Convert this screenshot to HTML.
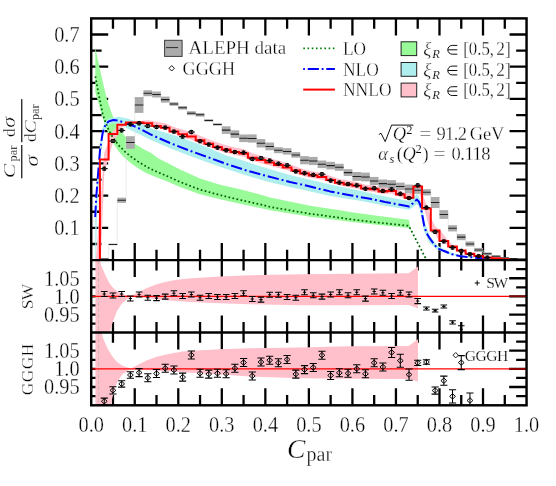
<!DOCTYPE html>
<html><head><meta charset="utf-8"><title>C-parameter</title>
<style>
html,body{margin:0;padding:0;background:#fff;}
body{width:556px;height:486px;overflow:hidden;}
svg{display:block;}
text{font-family:"Liberation Serif",serif;fill:#000;stroke:#fff;stroke-width:0.32px;}
.sm{stroke-width:0.14px;}
.md{stroke-width:0.22px;}
.it{font-style:italic;}
</style></head><body>
<svg width="556" height="486" viewBox="0 0 556 486">
<defs>
<clipPath id="c1"><rect x="91.2" y="18.4" width="435.35" height="241.7"/></clipPath>
<clipPath id="c2"><rect x="91.2" y="260.1" width="435.35" height="72.35"/></clipPath>
<clipPath id="c3"><rect x="91.2" y="332.45" width="435.35" height="72.85"/></clipPath>
</defs>
<rect x="0" y="0" width="556" height="486" fill="#fff"/>
<g opacity="0.999">
<path d="M112.97 18.4L112.97 28.8M112.97 249.7L112.97 260.1M134.74 18.4L134.74 35.4M134.74 243.1L134.74 260.1M156.5 18.4L156.5 28.8M156.5 249.7L156.5 260.1M178.27 18.4L178.27 35.4M178.27 243.1L178.27 260.1M200.04 18.4L200.04 28.8M200.04 249.7L200.04 260.1M221.81 18.4L221.81 35.4M221.81 243.1L221.81 260.1M243.57 18.4L243.57 28.8M243.57 249.7L243.57 260.1M265.34 18.4L265.34 35.4M265.34 243.1L265.34 260.1M287.11 18.4L287.11 28.8M287.11 249.7L287.11 260.1M308.88 18.4L308.88 35.4M308.88 243.1L308.88 260.1M330.64 18.4L330.64 28.8M330.64 249.7L330.64 260.1M352.41 18.4L352.41 35.4M352.41 243.1L352.41 260.1M374.18 18.4L374.18 28.8M374.18 249.7L374.18 260.1M395.94 18.4L395.94 35.4M395.94 243.1L395.94 260.1M417.71 18.4L417.71 28.8M417.71 249.7L417.71 260.1M439.48 18.4L439.48 35.4M439.48 243.1L439.48 260.1M461.25 18.4L461.25 28.8M461.25 249.7L461.25 260.1M483.01 18.4L483.01 35.4M483.01 243.1L483.01 260.1M504.78 18.4L504.78 28.8M504.78 249.7L504.78 260.1M91.2 243.99L101.6 243.99M516.15 243.99L526.55 243.99M91.2 227.87L108.2 227.87M509.55 227.87L526.55 227.87M91.2 211.76L101.6 211.76M516.15 211.76L526.55 211.76M91.2 195.64L108.2 195.64M509.55 195.64L526.55 195.64M91.2 179.53L101.6 179.53M516.15 179.53L526.55 179.53M91.2 163.41L108.2 163.41M509.55 163.41L526.55 163.41M91.2 147.3L101.6 147.3M516.15 147.3L526.55 147.3M91.2 131.18L108.2 131.18M509.55 131.18L526.55 131.18M91.2 115.07L101.6 115.07M516.15 115.07L526.55 115.07M91.2 98.95L108.2 98.95M509.55 98.95L526.55 98.95M91.2 82.84L101.6 82.84M516.15 82.84L526.55 82.84M91.2 66.72L108.2 66.72M509.55 66.72L526.55 66.72M91.2 50.61L101.6 50.61M516.15 50.61L526.55 50.61M91.2 34.49L108.2 34.49M509.55 34.49L526.55 34.49" stroke="#000" stroke-width="2.3" fill="none"/>
<g clip-path="url(#c1)">
<polygon fill="#98fb98" points="95.3,47.5 97.8,59.5 100.4,71.2 103.5,85 106.6,97.9 110.7,110.5 112.7,116 114.5,120 118.7,128 125.4,136.7 132.1,142.1 142.8,148.8 152,153.4 157.62,158.1 168,163.15 179.99,169.49 200,178.42 220.01,184.77 239.98,189.26 259.99,194.46 270.02,197.49 310,205.65 339.96,210.24 349.98,211.98 378.76,216.08 408.8,219.76 411.3,230.8 408.8,228 378.76,225.08 349.98,221.83 339.96,220.44 310,216.8 270.02,210.32 259.99,207.92 239.98,203.79 220.01,199.31 200,194.19 179.99,186.99 168,181.87 157.62,177.81 152,175.6 145.5,172.8 138.8,168.8 132.1,164.1 125.4,158.8 118.7,151.4 113.4,143.4 108,132.7 104.6,124 100.7,110.5 98,101.5 95.3,92"/>
<polygon fill="#afeeee" points="95.3,212 97.3,176 99.8,147 102.5,128 105.4,121.6 108.7,118.8 112,118 118.7,116.7 126.8,118.3 136.1,121.4 150,127.9 175,135.5 205,146.5 225,155 240,159.6 260,166.3 290,175 330,184.5 360,190.8 385.2,196.6 405,200.3 409.2,201.2 413,198 416.7,194 419,196.2 421.2,203 424.4,221 429.2,235 437,245.2 447.8,251.3 459.6,255.2 475,257.6 490,258.7 490,259.1 475,258.3 459.6,256.7 447.8,254 437,249.6 429,242.3 424,231 420.9,214 419,206.5 416.8,204.2 413,207 409.2,209.7 385.2,205.8 360,200.8 330,195.9 305,190.3 290,187 265,180.9 245,175 225,168.6 210,163.2 190,155.9 170,148.2 150,139.4 136.1,132.7 126.8,128.2 118.3,124 113,123 109.5,124.2 106.2,127.5 103.2,135.5 100.4,158 98.4,188 96.9,215 95.3,300"/>
<polygon fill="#ffc0cb" points="95.4,265 104.26,152.85 112.97,130.96 121.67,123.91 130.38,122.45 139.09,120.9 147.8,120.2 156.5,121.7 165.21,123.18 173.92,127.01 182.62,129.71 191.33,132 200.04,135.64 208.74,139.28 217.45,142.62 226.16,145.13 234.87,147.54 243.57,149.12 252.28,153.31 260.99,155.74 269.69,158.16 278.4,160.6 287.11,163.14 295.81,166.41 304.52,169.38 313.23,171.41 321.94,172.81 330.64,176 339.35,178.88 348.06,180.6 356.76,181.91 365.47,184.7 374.18,185.48 382.88,187.64 391.59,187.17 400.3,190.92 409.01,194.14 418,183.2 426.7,205 430.8,217.5 435.4,226.8 441,231 446.4,238.5 452.7,245.3 461.7,251 470,254.2 480,256.5 492,258.2 505,259.2 505,259.6 492,258.9 480,257.3 470,255 461.6,252.1 452.9,248.3 444.2,243 439,241.2 434.1,231.6 429.8,229.3 426.7,218.2 424.3,209.6 418,189.6 409.01,200.12 400.3,197.11 391.59,193.61 382.88,193.96 374.18,191.9 365.47,191.1 356.76,188.46 348.06,187.17 339.35,185.49 330.64,182.75 321.94,179.72 313.23,178.32 304.52,176.34 295.81,173.5 287.11,170.35 278.4,167.89 269.69,165.51 260.99,163.14 252.28,160.76 243.57,156.73 234.87,155.12 226.16,152.74 217.45,150.25 208.74,146.99 200.04,143.43 191.33,139.86 182.62,137.56 173.92,133.31 165.21,129.32 156.5,127.23 147.8,124.12 139.09,122.91 130.38,122.75 121.67,127.68 112.97,142.76 104.26,172.38 95.4,400"/>
<polyline fill="none" stroke="#e4e4e4" stroke-width="0.7" points="99.91,258.9 108.61,258.9 108.61,244.4 117.32,244.4 117.32,200.3 126.03,200.3 126.03,142.5 134.74,142.5 134.74,105 143.44,105 143.44,93.2 152.15,93.2 152.15,94.5 160.86,94.5 160.86,99.6 169.56,99.6 169.56,104 178.27,104 178.27,107.8 186.98,107.8 186.98,113.2 195.68,113.2 195.68,114.8 204.39,114.8 204.39,120.4 213.1,120.4 213.1,124.4 221.81,124.4 221.81,130.1 230.51,130.1 230.51,134.1 239.22,134.1 239.22,138.3 247.93,138.3 247.93,138.5 256.63,138.5 256.63,143.3 265.34,143.3 265.34,146.4 274.05,146.4 274.05,150.2 282.75,150.2 282.75,151.4 291.46,151.4 291.46,154.9 300.17,154.9 300.17,160.2 308.88,160.2 308.88,161 317.58,161 317.58,164.3 326.29,164.3 326.29,165.6 335,165.6 335,167.3 343.7,167.3 343.7,172.6 352.41,172.6 352.41,176.4 361.12,176.4 361.12,177 369.82,177 369.82,181 378.53,181 378.53,183.6 387.24,183.6 387.24,184.2 395.94,184.2 395.94,186.4 404.65,186.4 404.65,189 413.36,189 413.36,190.2 422.07,190.2 422.07,192.3 430.77,192.3 430.77,202.5 439.48,202.5 439.48,214.5 448.19,214.5 448.19,228.3 456.89,228.3 456.89,237.1 465.6,237.1 465.6,243.9 474.31,243.9 474.31,249.9 483.01,249.9 483.01,253.8 491.72,253.8 491.72,256.2 500.43,256.2 500.43,258 509.14,258 509.14,258.6 517.84,258.6 517.84,258.9 526.55,258.9"/>
<rect x="99.91" y="258.3" width="8.71" height="1.2" fill="#ababab"/>
<rect x="108.61" y="243.6" width="8.71" height="1.6" fill="#ababab"/>
<rect x="117.32" y="197.7" width="8.71" height="5.2" fill="#ababab"/>
<rect x="126.03" y="136.2" width="8.71" height="12.6" fill="#ababab"/>
<rect x="134.74" y="97.1" width="8.71" height="15.8" fill="#ababab"/>
<rect x="143.44" y="90.2" width="8.71" height="6" fill="#ababab"/>
<rect x="152.15" y="91.5" width="8.71" height="6" fill="#ababab"/>
<rect x="160.86" y="96.6" width="8.71" height="6" fill="#ababab"/>
<rect x="169.56" y="102.2" width="8.71" height="3.6" fill="#ababab"/>
<rect x="178.27" y="106" width="8.71" height="3.6" fill="#ababab"/>
<rect x="186.98" y="111.2" width="8.71" height="4" fill="#ababab"/>
<rect x="195.68" y="113" width="8.71" height="3.6" fill="#ababab"/>
<rect x="204.39" y="119.2" width="8.71" height="2.4" fill="#ababab"/>
<rect x="213.1" y="123.2" width="8.71" height="2.4" fill="#ababab"/>
<rect x="221.81" y="126.3" width="8.71" height="7.6" fill="#ababab"/>
<rect x="230.51" y="130.3" width="8.71" height="7.6" fill="#ababab"/>
<rect x="239.22" y="134.5" width="8.71" height="7.6" fill="#ababab"/>
<rect x="247.93" y="134.4" width="8.71" height="8.2" fill="#ababab"/>
<rect x="256.63" y="139.1" width="8.71" height="8.4" fill="#ababab"/>
<rect x="265.34" y="142.5" width="8.71" height="7.8" fill="#ababab"/>
<rect x="274.05" y="147.2" width="8.71" height="6" fill="#ababab"/>
<rect x="282.75" y="148.2" width="8.71" height="6.4" fill="#ababab"/>
<rect x="291.46" y="152.1" width="8.71" height="5.6" fill="#ababab"/>
<rect x="300.17" y="156.1" width="8.71" height="8.2" fill="#ababab"/>
<rect x="308.88" y="156.9" width="8.71" height="8.2" fill="#ababab"/>
<rect x="317.58" y="160.5" width="8.71" height="7.6" fill="#ababab"/>
<rect x="326.29" y="161.8" width="8.71" height="7.6" fill="#ababab"/>
<rect x="335" y="163.8" width="8.71" height="7" fill="#ababab"/>
<rect x="343.7" y="169.2" width="8.71" height="6.8" fill="#ababab"/>
<rect x="352.41" y="172" width="8.71" height="8.8" fill="#ababab"/>
<rect x="361.12" y="172.6" width="8.71" height="8.8" fill="#ababab"/>
<rect x="369.82" y="176.9" width="8.71" height="8.2" fill="#ababab"/>
<rect x="378.53" y="179.5" width="8.71" height="8.2" fill="#ababab"/>
<rect x="387.24" y="180.1" width="8.71" height="8.2" fill="#ababab"/>
<rect x="395.94" y="182.6" width="8.71" height="7.6" fill="#ababab"/>
<rect x="404.65" y="184.6" width="8.71" height="8.8" fill="#ababab"/>
<rect x="413.36" y="186.6" width="8.71" height="7.2" fill="#ababab"/>
<rect x="422.07" y="189.2" width="8.71" height="6.2" fill="#ababab"/>
<rect x="430.77" y="197" width="8.71" height="11" fill="#ababab"/>
<rect x="439.48" y="210.1" width="8.71" height="8.8" fill="#ababab"/>
<rect x="448.19" y="225.2" width="8.71" height="6.2" fill="#ababab"/>
<rect x="456.89" y="234" width="8.71" height="6.2" fill="#ababab"/>
<rect x="465.6" y="241.4" width="8.71" height="5" fill="#ababab"/>
<rect x="474.31" y="247.9" width="8.71" height="4" fill="#ababab"/>
<rect x="483.01" y="252.4" width="8.71" height="2.8" fill="#ababab"/>
<rect x="491.72" y="255.2" width="8.71" height="2" fill="#ababab"/>
<rect x="500.43" y="257.3" width="8.71" height="1.4" fill="#ababab"/>
<rect x="509.14" y="258.1" width="8.71" height="1" fill="#ababab"/>
<rect x="517.84" y="258.5" width="8.71" height="0.8" fill="#ababab"/>
<line x1="100.01" y1="258.9" x2="108.51" y2="258.9" stroke="#202020" stroke-width="1.05"/>
<line x1="108.71" y1="244.4" x2="117.22" y2="244.4" stroke="#202020" stroke-width="1.05"/>
<line x1="117.42" y1="200.3" x2="125.93" y2="200.3" stroke="#202020" stroke-width="1.05"/>
<line x1="126.13" y1="142.5" x2="134.64" y2="142.5" stroke="#202020" stroke-width="1.05"/>
<line x1="134.84" y1="105" x2="143.34" y2="105" stroke="#202020" stroke-width="1.05"/>
<line x1="143.54" y1="93.2" x2="152.05" y2="93.2" stroke="#202020" stroke-width="1.05"/>
<line x1="152.25" y1="94.5" x2="160.76" y2="94.5" stroke="#202020" stroke-width="1.05"/>
<line x1="160.96" y1="99.6" x2="169.46" y2="99.6" stroke="#202020" stroke-width="1.05"/>
<line x1="169.66" y1="104" x2="178.17" y2="104" stroke="#202020" stroke-width="1.05"/>
<line x1="178.37" y1="107.8" x2="186.88" y2="107.8" stroke="#202020" stroke-width="1.05"/>
<line x1="187.08" y1="113.2" x2="195.58" y2="113.2" stroke="#202020" stroke-width="1.05"/>
<line x1="195.78" y1="114.8" x2="204.29" y2="114.8" stroke="#202020" stroke-width="1.05"/>
<line x1="204.49" y1="120.4" x2="213" y2="120.4" stroke="#202020" stroke-width="1.05"/>
<line x1="213.2" y1="124.4" x2="221.71" y2="124.4" stroke="#202020" stroke-width="1.05"/>
<line x1="221.91" y1="130.1" x2="230.41" y2="130.1" stroke="#202020" stroke-width="1.05"/>
<line x1="230.61" y1="134.1" x2="239.12" y2="134.1" stroke="#202020" stroke-width="1.05"/>
<line x1="239.32" y1="138.3" x2="247.83" y2="138.3" stroke="#202020" stroke-width="1.05"/>
<line x1="248.03" y1="138.5" x2="256.53" y2="138.5" stroke="#202020" stroke-width="1.05"/>
<line x1="256.73" y1="143.3" x2="265.24" y2="143.3" stroke="#202020" stroke-width="1.05"/>
<line x1="265.44" y1="146.4" x2="273.95" y2="146.4" stroke="#202020" stroke-width="1.05"/>
<line x1="274.15" y1="150.2" x2="282.65" y2="150.2" stroke="#202020" stroke-width="1.05"/>
<line x1="282.85" y1="151.4" x2="291.36" y2="151.4" stroke="#202020" stroke-width="1.05"/>
<line x1="291.56" y1="154.9" x2="300.07" y2="154.9" stroke="#202020" stroke-width="1.05"/>
<line x1="300.27" y1="160.2" x2="308.77" y2="160.2" stroke="#202020" stroke-width="1.05"/>
<line x1="308.98" y1="161" x2="317.48" y2="161" stroke="#202020" stroke-width="1.05"/>
<line x1="317.68" y1="164.3" x2="326.19" y2="164.3" stroke="#202020" stroke-width="1.05"/>
<line x1="326.39" y1="165.6" x2="334.9" y2="165.6" stroke="#202020" stroke-width="1.05"/>
<line x1="335.1" y1="167.3" x2="343.6" y2="167.3" stroke="#202020" stroke-width="1.05"/>
<line x1="343.8" y1="172.6" x2="352.31" y2="172.6" stroke="#202020" stroke-width="1.05"/>
<line x1="352.51" y1="176.4" x2="361.02" y2="176.4" stroke="#202020" stroke-width="1.05"/>
<line x1="361.22" y1="177" x2="369.72" y2="177" stroke="#202020" stroke-width="1.05"/>
<line x1="369.92" y1="181" x2="378.43" y2="181" stroke="#202020" stroke-width="1.05"/>
<line x1="378.63" y1="183.6" x2="387.14" y2="183.6" stroke="#202020" stroke-width="1.05"/>
<line x1="387.34" y1="184.2" x2="395.84" y2="184.2" stroke="#202020" stroke-width="1.05"/>
<line x1="396.04" y1="186.4" x2="404.55" y2="186.4" stroke="#202020" stroke-width="1.05"/>
<line x1="404.75" y1="189" x2="413.26" y2="189" stroke="#202020" stroke-width="1.05"/>
<line x1="413.46" y1="190.2" x2="421.97" y2="190.2" stroke="#202020" stroke-width="1.05"/>
<line x1="422.17" y1="192.3" x2="430.67" y2="192.3" stroke="#202020" stroke-width="1.05"/>
<line x1="430.87" y1="202.5" x2="439.38" y2="202.5" stroke="#202020" stroke-width="1.05"/>
<line x1="439.58" y1="214.5" x2="448.09" y2="214.5" stroke="#202020" stroke-width="1.05"/>
<line x1="448.29" y1="228.3" x2="456.79" y2="228.3" stroke="#202020" stroke-width="1.05"/>
<line x1="456.99" y1="237.1" x2="465.5" y2="237.1" stroke="#202020" stroke-width="1.05"/>
<line x1="465.7" y1="243.9" x2="474.21" y2="243.9" stroke="#202020" stroke-width="1.05"/>
<line x1="474.41" y1="249.9" x2="482.91" y2="249.9" stroke="#202020" stroke-width="1.05"/>
<line x1="483.11" y1="253.8" x2="491.62" y2="253.8" stroke="#202020" stroke-width="1.05"/>
<line x1="491.82" y1="256.2" x2="500.33" y2="256.2" stroke="#202020" stroke-width="1.05"/>
<line x1="500.53" y1="258" x2="509.04" y2="258" stroke="#202020" stroke-width="1.05"/>
<line x1="509.24" y1="258.6" x2="517.74" y2="258.6" stroke="#202020" stroke-width="1.05"/>
<line x1="517.94" y1="258.9" x2="526.45" y2="258.9" stroke="#202020" stroke-width="1.05"/>
<polyline fill="none" stroke="#006400" stroke-width="1.75" stroke-dasharray="1.75 2.35" points="95.36,76.29 98.28,92.26 101.42,107.72 102.68,113.99 105.39,122.01 108.7,130 112.02,136.05 118.69,145.39 125.4,152.15 132.11,157.5 138.79,162.13 145.5,166.09 149.99,168.64 157.62,172.12 168,176.46 179.99,181.94 200,189.63 220.01,195.11 239.98,199.9 259.99,204.32 270.02,206.89 310,213.81 339.96,217.71 349.98,219.19 378.76,222.67 408.8,225.79 425.8,258.6"/>
<polyline fill="none" stroke="#0000ff" stroke-width="2.0" stroke-dasharray="11.4 2.9 1.9 2.9" stroke-linejoin="round" points="95.2,217 96.3,196 97.6,180 100,150.1 102.7,132.7 105.4,124.7 108.7,121.4 113.4,120 118.7,120.7 126.8,123.4 136.1,126.9 150,134.2 170,143 190,150.8 210,157.9 225,163.5 245,170 265,175.6 290,182 305,185.3 330,191.4 350,195.2 360,197 370,198.7 385.2,202 400,204.8 409.2,206.5 413,203.2 416.7,199.6 418.8,201.5 420.5,205.5 422.3,215.3 424.2,225.8 426.5,233 430,238.7 437,248 443.5,250.8 452,254.2 460.6,256.2 477.7,257.9 490,258.8"/>
<polyline fill="none" stroke="#ff0000" stroke-width="2" stroke-linejoin="miter" points="99.91,300 99.91,159.4 108.61,159.4 108.61,133.9 117.32,133.9 117.32,124.8 126.03,124.8 126.03,122.4 134.74,122.4 134.74,122.4 143.44,122.4 143.44,123.3 152.15,123.3 152.15,126 160.86,126 160.86,127.8 169.56,127.8 169.56,131.6 178.27,131.6 178.27,134.3 186.98,134.3 186.98,136.6 195.68,136.6 195.68,140.2 204.39,140.2 204.39,143.8 213.1,143.8 213.1,147.1 221.81,147.1 221.81,149.6 230.51,149.6 230.51,152 239.22,152 239.22,153.6 247.93,153.6 247.93,157.7 256.63,157.7 256.63,160.1 265.34,160.1 265.34,162.5 274.05,162.5 274.05,164.9 282.75,164.9 282.75,167.4 291.46,167.4 291.46,170.6 300.17,170.6 300.17,173.5 308.88,173.5 308.88,175.5 317.58,175.5 317.58,176.9 326.29,176.9 326.29,180 335,180 335,182.8 343.7,182.8 343.7,184.5 352.41,184.5 352.41,185.8 361.12,185.8 361.12,188.5 369.82,188.5 369.82,189.3 378.53,189.3 378.53,191.4 387.24,191.4 387.24,191 395.94,191 395.94,194.6 404.65,194.6 404.65,197.7 413.36,197.7 413.36,186.4 422.07,186.4 422.07,208.5 430.77,208.5 430.77,230.6 439.48,230.6 439.48,240.9 448.19,240.9 448.19,246.5 456.89,246.5 456.89,250.6 465.6,250.6 465.6,253.8 474.31,253.8 474.31,256 483.01,256 483.01,257.4 491.72,257.4 491.72,258.2 500.43,258.2 500.43,259.3 509.14,259.3 509.14,260.4 517.84,260.4 517.84,260.6 526.55,260.6"/>
<path d="M100.76 168.7H107.76M104.26 167.2V170.2M102.46 167.2H106.06M102.46 170.2H106.06" stroke="#000" stroke-width="1" fill="none"/>
<path d="M101.96 168.7L104.26 166.8L106.56 168.7L104.26 170.6Z" stroke="#000" stroke-width="0.8" fill="none"/>
<path d="M109.47 141H116.47M112.97 139.5V142.5M111.17 139.5H114.77M111.17 142.5H114.77" stroke="#000" stroke-width="1" fill="none"/>
<path d="M110.67 141L112.97 139.1L115.27 141L112.97 142.9Z" stroke="#000" stroke-width="0.8" fill="none"/>
<path d="M118.17 130.4H125.17M121.67 128.9V131.9M119.87 128.9H123.47M119.87 131.9H123.47" stroke="#000" stroke-width="1" fill="none"/>
<path d="M119.37 130.4L121.67 128.5L123.97 130.4L121.67 132.3Z" stroke="#000" stroke-width="0.8" fill="none"/>
<path d="M126.88 124.3H133.88M130.38 122.8V125.8M128.58 122.8H132.18M128.58 125.8H132.18" stroke="#000" stroke-width="1" fill="none"/>
<path d="M128.08 124.3L130.38 122.4L132.68 124.3L130.38 126.2Z" stroke="#000" stroke-width="0.8" fill="none"/>
<path d="M135.59 123.3H142.59M139.09 121.8V124.8M137.29 121.8H140.89M137.29 124.8H140.89" stroke="#000" stroke-width="1" fill="none"/>
<path d="M136.79 123.3L139.09 121.4L141.39 123.3L139.09 125.2Z" stroke="#000" stroke-width="0.8" fill="none"/>
<path d="M144.3 126H151.3M147.8 124.5V127.5M146 124.5H149.6M146 127.5H149.6" stroke="#000" stroke-width="1" fill="none"/>
<path d="M145.5 126L147.8 124.1L150.1 126L147.8 127.9Z" stroke="#000" stroke-width="0.8" fill="none"/>
<path d="M153 127H160M156.5 125.5V128.5M154.7 125.5H158.3M154.7 128.5H158.3" stroke="#000" stroke-width="1" fill="none"/>
<path d="M154.2 127L156.5 125.1L158.8 127L156.5 128.9Z" stroke="#000" stroke-width="0.8" fill="none"/>
<path d="M161.71 127.6H168.71M165.21 126.1V129.1M163.41 126.1H167.01M163.41 129.1H167.01" stroke="#000" stroke-width="1" fill="none"/>
<path d="M162.91 127.6L165.21 125.7L167.51 127.6L165.21 129.5Z" stroke="#000" stroke-width="0.8" fill="none"/>
<path d="M170.42 131.6H177.42M173.92 130.1V133.1M172.12 130.1H175.72M172.12 133.1H175.72" stroke="#000" stroke-width="1" fill="none"/>
<path d="M171.62 131.6L173.92 129.7L176.22 131.6L173.92 133.5Z" stroke="#000" stroke-width="0.8" fill="none"/>
<path d="M179.12 136.6H186.12M182.62 135.1V138.1M180.82 135.1H184.42M180.82 138.1H184.42" stroke="#000" stroke-width="1" fill="none"/>
<path d="M180.32 136.6L182.62 134.7L184.92 136.6L182.62 138.5Z" stroke="#000" stroke-width="0.8" fill="none"/>
<path d="M187.83 132H194.83M191.33 130.5V133.5M189.53 130.5H193.13M189.53 133.5H193.13" stroke="#000" stroke-width="1" fill="none"/>
<path d="M189.03 132L191.33 130.1L193.63 132L191.33 133.9Z" stroke="#000" stroke-width="0.8" fill="none"/>
<path d="M196.54 141.2H203.54M200.04 139.7V142.7M198.24 139.7H201.84M198.24 142.7H201.84" stroke="#000" stroke-width="1" fill="none"/>
<path d="M197.74 141.2L200.04 139.3L202.34 141.2L200.04 143.1Z" stroke="#000" stroke-width="0.8" fill="none"/>
<path d="M205.24 144.5H212.24M208.74 143V146M206.94 143H210.54M206.94 146H210.54" stroke="#000" stroke-width="1" fill="none"/>
<path d="M206.44 144.5L208.74 142.6L211.04 144.5L208.74 146.4Z" stroke="#000" stroke-width="0.8" fill="none"/>
<path d="M213.95 147.6H220.95M217.45 146.1V149.1M215.65 146.1H219.25M215.65 149.1H219.25" stroke="#000" stroke-width="1" fill="none"/>
<path d="M215.15 147.6L217.45 145.7L219.75 147.6L217.45 149.5Z" stroke="#000" stroke-width="0.8" fill="none"/>
<path d="M222.66 150.3H229.66M226.16 148.8V151.8M224.36 148.8H227.96M224.36 151.8H227.96" stroke="#000" stroke-width="1" fill="none"/>
<path d="M223.86 150.3L226.16 148.4L228.46 150.3L226.16 152.2Z" stroke="#000" stroke-width="0.8" fill="none"/>
<path d="M231.37 152H238.37M234.87 150.5V153.5M233.07 150.5H236.67M233.07 153.5H236.67" stroke="#000" stroke-width="1" fill="none"/>
<path d="M232.57 152L234.87 150.1L237.17 152L234.87 153.9Z" stroke="#000" stroke-width="0.8" fill="none"/>
<path d="M240.07 152.6H247.07M243.57 151.1V154.1M241.77 151.1H245.37M241.77 154.1H245.37" stroke="#000" stroke-width="1" fill="none"/>
<path d="M241.27 152.6L243.57 150.7L245.87 152.6L243.57 154.5Z" stroke="#000" stroke-width="0.8" fill="none"/>
<path d="M248.78 159H255.78M252.28 157.5V160.5M250.48 157.5H254.08M250.48 160.5H254.08" stroke="#000" stroke-width="1" fill="none"/>
<path d="M249.98 159L252.28 157.1L254.58 159L252.28 160.9Z" stroke="#000" stroke-width="0.8" fill="none"/>
<path d="M257.49 158.1H264.49M260.99 156.6V159.6M259.19 156.6H262.79M259.19 159.6H262.79" stroke="#000" stroke-width="1" fill="none"/>
<path d="M258.69 158.1L260.99 156.2L263.29 158.1L260.99 160Z" stroke="#000" stroke-width="0.8" fill="none"/>
<path d="M266.19 160.6H273.19M269.69 159.1V162.1M267.89 159.1H271.49M267.89 162.1H271.49" stroke="#000" stroke-width="1" fill="none"/>
<path d="M267.39 160.6L269.69 158.7L271.99 160.6L269.69 162.5Z" stroke="#000" stroke-width="0.8" fill="none"/>
<path d="M274.9 163.7H281.9M278.4 162.2V165.2M276.6 162.2H280.2M276.6 165.2H280.2" stroke="#000" stroke-width="1" fill="none"/>
<path d="M276.1 163.7L278.4 161.8L280.7 163.7L278.4 165.6Z" stroke="#000" stroke-width="0.8" fill="none"/>
<path d="M283.61 165.3H290.61M287.11 163.8V166.8M285.31 163.8H288.91M285.31 166.8H288.91" stroke="#000" stroke-width="1" fill="none"/>
<path d="M284.81 165.3L287.11 163.4L289.41 165.3L287.11 167.2Z" stroke="#000" stroke-width="0.8" fill="none"/>
<path d="M292.31 171.4H299.31M295.81 169.9V172.9M294.01 169.9H297.61M294.01 172.9H297.61" stroke="#000" stroke-width="1" fill="none"/>
<path d="M293.51 171.4L295.81 169.5L298.11 171.4L295.81 173.3Z" stroke="#000" stroke-width="0.8" fill="none"/>
<path d="M301.02 173.2H308.02M304.52 171.7V174.7M302.72 171.7H306.32M302.72 174.7H306.32" stroke="#000" stroke-width="1" fill="none"/>
<path d="M302.22 173.2L304.52 171.3L306.82 173.2L304.52 175.1Z" stroke="#000" stroke-width="0.8" fill="none"/>
<path d="M309.73 174.9H316.73M313.23 173.4V176.4M311.43 173.4H315.03M311.43 176.4H315.03" stroke="#000" stroke-width="1" fill="none"/>
<path d="M310.93 174.9L313.23 173L315.53 174.9L313.23 176.8Z" stroke="#000" stroke-width="0.8" fill="none"/>
<path d="M318.44 174.2H325.44M321.94 172.7V175.7M320.14 172.7H323.74M320.14 175.7H323.74" stroke="#000" stroke-width="1" fill="none"/>
<path d="M319.64 174.2L321.94 172.3L324.24 174.2L321.94 176.1Z" stroke="#000" stroke-width="0.8" fill="none"/>
<path d="M327.14 180.5H334.14M330.64 179V182M328.84 179H332.44M328.84 182H332.44" stroke="#000" stroke-width="1" fill="none"/>
<path d="M328.34 180.5L330.64 178.6L332.94 180.5L330.64 182.4Z" stroke="#000" stroke-width="0.8" fill="none"/>
<path d="M335.85 182.6H342.85M339.35 181.1V184.1M337.55 181.1H341.15M337.55 184.1H341.15" stroke="#000" stroke-width="1" fill="none"/>
<path d="M337.05 182.6L339.35 180.7L341.65 182.6L339.35 184.5Z" stroke="#000" stroke-width="0.8" fill="none"/>
<path d="M344.56 184.1H351.56M348.06 182.6V185.6M346.26 182.6H349.86M346.26 185.6H349.86" stroke="#000" stroke-width="1" fill="none"/>
<path d="M345.76 184.1L348.06 182.2L350.36 184.1L348.06 186Z" stroke="#000" stroke-width="0.8" fill="none"/>
<path d="M353.26 185.4H360.26M356.76 183.9V186.9M354.96 183.9H358.56M354.96 186.9H358.56" stroke="#000" stroke-width="1" fill="none"/>
<path d="M354.46 185.4L356.76 183.5L359.06 185.4L356.76 187.3Z" stroke="#000" stroke-width="0.8" fill="none"/>
<path d="M361.97 188.7H368.97M365.47 187.2V190.2M363.67 187.2H367.27M363.67 190.2H367.27" stroke="#000" stroke-width="1" fill="none"/>
<path d="M363.17 188.7L365.47 186.8L367.77 188.7L365.47 190.6Z" stroke="#000" stroke-width="0.8" fill="none"/>
<path d="M370.68 188.2H377.68M374.18 186.7V189.7M372.38 186.7H375.98M372.38 189.7H375.98" stroke="#000" stroke-width="1" fill="none"/>
<path d="M371.88 188.2L374.18 186.3L376.48 188.2L374.18 190.1Z" stroke="#000" stroke-width="0.8" fill="none"/>
<path d="M379.38 190.9H386.38M382.88 189.4V192.4M381.08 189.4H384.68M381.08 192.4H384.68" stroke="#000" stroke-width="1" fill="none"/>
<path d="M380.58 190.9L382.88 189L385.18 190.9L382.88 192.8Z" stroke="#000" stroke-width="0.8" fill="none"/>
<path d="M388.09 189.3H395.09M391.59 187.8V190.8M389.79 187.8H393.39M389.79 190.8H393.39" stroke="#000" stroke-width="1" fill="none"/>
<path d="M389.29 189.3L391.59 187.4L393.89 189.3L391.59 191.2Z" stroke="#000" stroke-width="0.8" fill="none"/>
<path d="M396.8 193.8H403.8M400.3 192.3V195.3M398.5 192.3H402.1M398.5 195.3H402.1" stroke="#000" stroke-width="1" fill="none"/>
<path d="M398 193.8L400.3 191.9L402.6 193.8L400.3 195.7Z" stroke="#000" stroke-width="0.8" fill="none"/>
<path d="M405.51 198.1H412.51M409.01 196.6V199.6M407.21 196.6H410.81M407.21 199.6H410.81" stroke="#000" stroke-width="1" fill="none"/>
<path d="M406.71 198.1L409.01 196.2L411.31 198.1L409.01 200Z" stroke="#000" stroke-width="0.8" fill="none"/>
<path d="M414.21 185.3H421.21M417.71 183.8V186.8M415.91 183.8H419.51M415.91 186.8H419.51" stroke="#000" stroke-width="1" fill="none"/>
<path d="M415.41 185.3L417.71 183.4L420.01 185.3L417.71 187.2Z" stroke="#000" stroke-width="0.8" fill="none"/>
<path d="M422.92 207.6H429.92M426.42 206.1V209.1M424.62 206.1H428.22M424.62 209.1H428.22" stroke="#000" stroke-width="1" fill="none"/>
<path d="M424.12 207.6L426.42 205.7L428.72 207.6L426.42 209.5Z" stroke="#000" stroke-width="0.8" fill="none"/>
<path d="M431.63 231.9H438.63M435.13 230.4V233.4M433.33 230.4H436.93M433.33 233.4H436.93" stroke="#000" stroke-width="1" fill="none"/>
<path d="M432.83 231.9L435.13 230L437.43 231.9L435.13 233.8Z" stroke="#000" stroke-width="0.8" fill="none"/>
<path d="M440.33 241.4H447.33M443.83 239.9V242.9M442.03 239.9H445.63M442.03 242.9H445.63" stroke="#000" stroke-width="1" fill="none"/>
<path d="M441.53 241.4L443.83 239.5L446.13 241.4L443.83 243.3Z" stroke="#000" stroke-width="0.8" fill="none"/>
<path d="M449.04 247.6H456.04M452.54 246.1V249.1M450.74 246.1H454.34M450.74 249.1H454.34" stroke="#000" stroke-width="1" fill="none"/>
<path d="M450.24 247.6L452.54 245.7L454.84 247.6L452.54 249.5Z" stroke="#000" stroke-width="0.8" fill="none"/>
<path d="M457.75 250.9H464.75M461.25 249.4V252.4M459.45 249.4H463.05M459.45 252.4H463.05" stroke="#000" stroke-width="1" fill="none"/>
<path d="M458.95 250.9L461.25 249L463.55 250.9L461.25 252.8Z" stroke="#000" stroke-width="0.8" fill="none"/>
<path d="M466.45 254.3H473.45M469.95 252.8V255.8M468.15 252.8H471.75M468.15 255.8H471.75" stroke="#000" stroke-width="1" fill="none"/>
<path d="M467.65 254.3L469.95 252.4L472.25 254.3L469.95 256.2Z" stroke="#000" stroke-width="0.8" fill="none"/>
<path d="M475.16 256.2H482.16M478.66 254.7V257.7M476.86 254.7H480.46M476.86 257.7H480.46" stroke="#000" stroke-width="1" fill="none"/>
<path d="M476.36 256.2L478.66 254.3L480.96 256.2L478.66 258.1Z" stroke="#000" stroke-width="0.8" fill="none"/>
<path d="M483.87 257.6H490.87M487.37 256.1V259.1M485.57 256.1H489.17M485.57 259.1H489.17" stroke="#000" stroke-width="1" fill="none"/>
<path d="M485.07 257.6L487.37 255.7L489.67 257.6L487.37 259.5Z" stroke="#000" stroke-width="0.8" fill="none"/>
</g>
<path d="M112.97 260.1L112.97 270.5M112.97 322.05L112.97 342.85M112.97 394.9L112.97 405.3M134.74 260.1L134.74 277.1M134.74 315.45L134.74 349.45M134.74 388.3L134.74 405.3M156.5 260.1L156.5 270.5M156.5 322.05L156.5 342.85M156.5 394.9L156.5 405.3M178.27 260.1L178.27 277.1M178.27 315.45L178.27 349.45M178.27 388.3L178.27 405.3M200.04 260.1L200.04 270.5M200.04 322.05L200.04 342.85M200.04 394.9L200.04 405.3M221.81 260.1L221.81 277.1M221.81 315.45L221.81 349.45M221.81 388.3L221.81 405.3M243.57 260.1L243.57 270.5M243.57 322.05L243.57 342.85M243.57 394.9L243.57 405.3M265.34 260.1L265.34 277.1M265.34 315.45L265.34 349.45M265.34 388.3L265.34 405.3M287.11 260.1L287.11 270.5M287.11 322.05L287.11 342.85M287.11 394.9L287.11 405.3M308.88 260.1L308.88 277.1M308.88 315.45L308.88 349.45M308.88 388.3L308.88 405.3M330.64 260.1L330.64 270.5M330.64 322.05L330.64 342.85M330.64 394.9L330.64 405.3M352.41 260.1L352.41 277.1M352.41 315.45L352.41 349.45M352.41 388.3L352.41 405.3M374.18 260.1L374.18 270.5M374.18 322.05L374.18 342.85M374.18 394.9L374.18 405.3M395.94 260.1L395.94 277.1M395.94 315.45L395.94 349.45M395.94 388.3L395.94 405.3M417.71 260.1L417.71 270.5M417.71 322.05L417.71 342.85M417.71 394.9L417.71 405.3M439.48 260.1L439.48 277.1M439.48 315.45L439.48 349.45M439.48 388.3L439.48 405.3M461.25 260.1L461.25 270.5M461.25 322.05L461.25 342.85M461.25 394.9L461.25 405.3M483.01 260.1L483.01 277.1M483.01 315.45L483.01 349.45M483.01 388.3L483.01 405.3M504.78 260.1L504.78 270.5M504.78 322.05L504.78 342.85M504.78 394.9L504.78 405.3M91.2 323.61L101.6 323.61M516.15 323.61L526.55 323.61M91.2 314.54L101.6 314.54M509.15 314.54L526.55 314.54M91.2 305.47L101.6 305.47M516.15 305.47L526.55 305.47M91.2 296.4L101.6 296.4M509.15 296.4L526.55 296.4M91.2 287.33L101.6 287.33M516.15 287.33L526.55 287.33M91.2 278.26L101.6 278.26M509.15 278.26L526.55 278.26M91.2 269.19L101.6 269.19M516.15 269.19L526.55 269.19M91.2 396.06L101.6 396.06M516.15 396.06L526.55 396.06M91.2 386.99L101.6 386.99M509.15 386.99L526.55 386.99M91.2 377.92L101.6 377.92M516.15 377.92L526.55 377.92M91.2 368.85L101.6 368.85M509.15 368.85L526.55 368.85M91.2 359.78L101.6 359.78M516.15 359.78L526.55 359.78M91.2 350.71L101.6 350.71M509.15 350.71L526.55 350.71M91.2 341.64L101.6 341.64M516.15 341.64L526.55 341.64" stroke="#000" stroke-width="2.3" fill="none"/>
<g clip-path="url(#c2)">
<polygon fill="#ffc0cb" points="95.4,240 101.3,265.7 105.4,274.9 108.7,281.9 112.8,287.4 116.9,291 123.5,294.6 128,295.7 130.8,296.2 138,292.6 147,288.1 156,284.5 165,282.1 174,280.3 183,279.1 192,278.2 220,276.4 250,275.3 300,274.2 350,273.7 408.6,273.3 418,266.6 418,308.4 408.8,305.1 350,305.2 300,305.2 250,304.2 220,303.3 190,302 160,299.8 145,297.8 130.8,296.7 128,298.2 125.4,300.7 121.7,303.7 117,311 113.3,320.4 109.6,332.5 95.4,360"/>
<line x1="98.6" y1="260.1" x2="98.6" y2="332.45" stroke="#b8b8b8" stroke-width="0.8" stroke-dasharray="4 2"/>
<line x1="91.2" y1="296.4" x2="526.55" y2="296.4" stroke="#ff0000" stroke-width="1.3"/>
<path d="M104.26 291.5V296.5M100.96 291.5H107.56M100.96 296.5H107.56M102.66 294H105.86" stroke="#000" stroke-width="1.05" fill="none"/>
<path d="M112.97 292.9V297.9M109.67 292.9H116.27M109.67 297.9H116.27M111.37 295.4H114.57" stroke="#000" stroke-width="1.05" fill="none"/>
<path d="M121.67 291.5V296.5M118.37 291.5H124.97M118.37 296.5H124.97M120.07 294H123.27" stroke="#000" stroke-width="1.05" fill="none"/>
<path d="M130.38 296V301M127.08 296H133.68M127.08 301H133.68M128.78 298.5H131.98" stroke="#000" stroke-width="1.05" fill="none"/>
<path d="M139.09 291.9V296.9M135.79 291.9H142.39M135.79 296.9H142.39M137.49 294.4H140.69" stroke="#000" stroke-width="1.05" fill="none"/>
<path d="M147.8 295.3V300.3M144.5 295.3H151.1M144.5 300.3H151.1M146.2 297.8H149.4" stroke="#000" stroke-width="1.05" fill="none"/>
<path d="M156.5 295.6V300.6M153.2 295.6H159.8M153.2 300.6H159.8M154.9 298.1H158.1" stroke="#000" stroke-width="1.05" fill="none"/>
<path d="M165.21 294.1V299.1M161.91 294.1H168.51M161.91 299.1H168.51M163.61 296.6H166.81" stroke="#000" stroke-width="1.05" fill="none"/>
<path d="M173.92 290.8V295.8M170.62 290.8H177.22M170.62 295.8H177.22M172.32 293.3H175.52" stroke="#000" stroke-width="1.05" fill="none"/>
<path d="M182.62 293.5V298.5M179.32 293.5H185.92M179.32 298.5H185.92M181.02 296H184.22" stroke="#000" stroke-width="1.05" fill="none"/>
<path d="M191.33 292V297M188.03 292H194.63M188.03 297H194.63M189.73 294.5H192.93" stroke="#000" stroke-width="1.05" fill="none"/>
<path d="M200.04 295.3V300.3M196.74 295.3H203.34M196.74 300.3H203.34M198.44 297.8H201.64" stroke="#000" stroke-width="1.05" fill="none"/>
<path d="M208.74 293.5V298.5M205.44 293.5H212.04M205.44 298.5H212.04M207.14 296H210.34" stroke="#000" stroke-width="1.05" fill="none"/>
<path d="M217.45 294.5V299.5M214.15 294.5H220.75M214.15 299.5H220.75M215.85 297H219.05" stroke="#000" stroke-width="1.05" fill="none"/>
<path d="M226.16 294.5V299.5M222.86 294.5H229.46M222.86 299.5H229.46M224.56 297H227.76" stroke="#000" stroke-width="1.05" fill="none"/>
<path d="M234.87 293.5V298.5M231.57 293.5H238.17M231.57 298.5H238.17M233.27 296H236.47" stroke="#000" stroke-width="1.05" fill="none"/>
<path d="M243.57 290.8V295.8M240.27 290.8H246.87M240.27 295.8H246.87M241.97 293.3H245.17" stroke="#000" stroke-width="1.05" fill="none"/>
<path d="M252.28 296.5V301.5M248.98 296.5H255.58M248.98 301.5H255.58M250.68 299H253.88" stroke="#000" stroke-width="1.05" fill="none"/>
<path d="M260.99 297.1V302.1M257.69 297.1H264.29M257.69 302.1H264.29M259.39 299.6H262.59" stroke="#000" stroke-width="1.05" fill="none"/>
<path d="M269.69 292.3V297.3M266.39 292.3H272.99M266.39 297.3H272.99M268.09 294.8H271.29" stroke="#000" stroke-width="1.05" fill="none"/>
<path d="M278.4 292.3V297.3M275.1 292.3H281.7M275.1 297.3H281.7M276.8 294.8H280" stroke="#000" stroke-width="1.05" fill="none"/>
<path d="M287.11 294.5V299.5M283.81 294.5H290.41M283.81 299.5H290.41M285.51 297H288.71" stroke="#000" stroke-width="1.05" fill="none"/>
<path d="M295.81 295.3V300.3M292.51 295.3H299.11M292.51 300.3H299.11M294.21 297.8H297.41" stroke="#000" stroke-width="1.05" fill="none"/>
<path d="M304.52 289.8V294.8M301.22 289.8H307.82M301.22 294.8H307.82M302.92 292.3H306.12" stroke="#000" stroke-width="1.05" fill="none"/>
<path d="M313.23 292.8V297.8M309.93 292.8H316.53M309.93 297.8H316.53M311.63 295.3H314.83" stroke="#000" stroke-width="1.05" fill="none"/>
<path d="M321.94 294.1V299.1M318.64 294.1H325.24M318.64 299.1H325.24M320.34 296.6H323.54" stroke="#000" stroke-width="1.05" fill="none"/>
<path d="M330.64 292V297M327.34 292H333.94M327.34 297H333.94M329.04 294.5H332.24" stroke="#000" stroke-width="1.05" fill="none"/>
<path d="M339.35 289.8V294.8M336.05 289.8H342.65M336.05 294.8H342.65M337.75 292.3H340.95" stroke="#000" stroke-width="1.05" fill="none"/>
<path d="M348.06 292.8V297.8M344.76 292.8H351.36M344.76 297.8H351.36M346.46 295.3H349.66" stroke="#000" stroke-width="1.05" fill="none"/>
<path d="M356.76 289.8V294.8M353.46 289.8H360.06M353.46 294.8H360.06M355.16 292.3H358.36" stroke="#000" stroke-width="1.05" fill="none"/>
<path d="M365.47 296.1V301.1M362.17 296.1H368.77M362.17 301.1H368.77M363.87 298.6H367.07" stroke="#000" stroke-width="1.05" fill="none"/>
<path d="M374.18 289V294M370.88 289H377.48M370.88 294H377.48M372.58 291.5H375.78" stroke="#000" stroke-width="1.05" fill="none"/>
<path d="M382.88 290.3V295.3M379.58 290.3H386.18M379.58 295.3H386.18M381.28 292.8H384.48" stroke="#000" stroke-width="1.05" fill="none"/>
<path d="M391.59 293.4V298.4M388.29 293.4H394.89M388.29 298.4H394.89M389.99 295.9H393.19" stroke="#000" stroke-width="1.05" fill="none"/>
<path d="M400.3 290.3V295.3M397 290.3H403.6M397 295.3H403.6M398.7 292.8H401.9" stroke="#000" stroke-width="1.05" fill="none"/>
<path d="M409.01 292V297M405.71 292H412.31M405.71 297H412.31M407.41 294.5H410.61" stroke="#000" stroke-width="1.05" fill="none"/>
<path d="M417.71 298.4V303.6M414.41 298.4H421.01M414.41 303.6H421.01M416.11 301H419.31" stroke="#000" stroke-width="1.05" fill="none"/>
<path d="M426.42 306.9V309.9M423.12 306.9H429.72M423.12 309.9H429.72M424.82 308.4H428.02" stroke="#000" stroke-width="1.05" fill="none"/>
<path d="M435.13 309.3V311.9M431.83 309.3H438.43M431.83 311.9H438.43M433.53 310.6H436.73" stroke="#000" stroke-width="1.05" fill="none"/>
<path d="M443.83 304.9V307.9M440.53 304.9H447.13M440.53 307.9H447.13M442.23 306.4H445.43" stroke="#000" stroke-width="1.05" fill="none"/>
<path d="M452.54 320.7V323.9M449.24 320.7H455.84M449.24 323.9H455.84M450.94 322.3H454.14" stroke="#000" stroke-width="1.05" fill="none"/>
<path d="M461.25 325.8V332.8M457.95 325.8H464.55M457.95 332.8H464.55M459.65 329.3H462.85" stroke="#000" stroke-width="1.05" fill="none"/>
</g>
<g clip-path="url(#c3)">
<polygon fill="#ffc0cb" points="95.4,300 103,338 107.8,349 112.4,356.5 117,362 122.6,365.7 130.8,368.4 138,364.7 147,360.2 156,356.9 165,354.8 174,353 183,351.5 192,350.8 220,349.2 250,348.3 300,347.4 350,346.3 408.6,346 418,339.3 418,381.4 408.8,379 350,378.8 300,378.3 250,376.4 220,374.4 192,372.8 165,371.3 150,370.2 130.8,369.3 128,370.4 125.4,372.4 122.6,374 118,380.6 114.3,389.8 110.5,405.5 95.4,440"/>
<line x1="98.6" y1="332.45" x2="98.6" y2="405.3" stroke="#b8b8b8" stroke-width="0.8" stroke-dasharray="4 2"/>
<line x1="91.2" y1="368.85" x2="526.55" y2="368.85" stroke="#ff0000" stroke-width="1.3"/>
<path d="M104.26 398.1V404.5M100.66 398.1H107.86M100.66 404.5H107.86" stroke="#000" stroke-width="1.05" fill="none"/>
<path d="M101.36 401.3L104.26 398.6L107.16 401.3L104.26 404Z" stroke="#000" stroke-width="1.0" fill="none"/>
<path d="M112.97 386.8V394M109.37 386.8H116.57M109.37 394H116.57" stroke="#000" stroke-width="1.05" fill="none"/>
<path d="M110.07 390.4L112.97 387.7L115.87 390.4L112.97 393.1Z" stroke="#000" stroke-width="1.0" fill="none"/>
<path d="M121.67 380.7V387.1M118.07 380.7H125.27M118.07 387.1H125.27" stroke="#000" stroke-width="1.05" fill="none"/>
<path d="M118.77 383.9L121.67 381.2L124.57 383.9L121.67 386.6Z" stroke="#000" stroke-width="1.0" fill="none"/>
<path d="M130.38 371.8V378.2M126.78 371.8H133.98M126.78 378.2H133.98" stroke="#000" stroke-width="1.05" fill="none"/>
<path d="M127.48 375L130.38 372.3L133.28 375L130.38 377.7Z" stroke="#000" stroke-width="1.0" fill="none"/>
<path d="M139.09 368.6V376.6M135.49 368.6H142.69M135.49 376.6H142.69" stroke="#000" stroke-width="1.05" fill="none"/>
<path d="M136.19 372.6L139.09 369.9L141.99 372.6L139.09 375.3Z" stroke="#000" stroke-width="1.0" fill="none"/>
<path d="M147.8 373.8V381.8M144.2 373.8H151.4M144.2 381.8H151.4" stroke="#000" stroke-width="1.05" fill="none"/>
<path d="M144.9 377.8L147.8 375.1L150.7 377.8L147.8 380.5Z" stroke="#000" stroke-width="1.0" fill="none"/>
<path d="M156.5 369.5V377.5M152.9 369.5H160.1M152.9 377.5H160.1" stroke="#000" stroke-width="1.05" fill="none"/>
<path d="M153.6 373.5L156.5 370.8L159.4 373.5L156.5 376.2Z" stroke="#000" stroke-width="1.0" fill="none"/>
<path d="M165.21 364.3V372.3M161.61 364.3H168.81M161.61 372.3H168.81" stroke="#000" stroke-width="1.05" fill="none"/>
<path d="M162.31 368.3L165.21 365.6L168.11 368.3L165.21 371Z" stroke="#000" stroke-width="1.0" fill="none"/>
<path d="M173.92 366V374M170.32 366H177.52M170.32 374H177.52" stroke="#000" stroke-width="1.05" fill="none"/>
<path d="M171.02 370L173.92 367.3L176.82 370L173.92 372.7Z" stroke="#000" stroke-width="1.0" fill="none"/>
<path d="M182.62 373.1V381.1M179.02 373.1H186.22M179.02 381.1H186.22" stroke="#000" stroke-width="1.05" fill="none"/>
<path d="M179.72 377.1L182.62 374.4L185.52 377.1L182.62 379.8Z" stroke="#000" stroke-width="1.0" fill="none"/>
<path d="M191.33 351V359M187.73 351H194.93M187.73 359H194.93" stroke="#000" stroke-width="1.05" fill="none"/>
<path d="M188.43 355L191.33 352.3L194.23 355L191.33 357.7Z" stroke="#000" stroke-width="1.0" fill="none"/>
<path d="M200.04 369.3V377.3M196.44 369.3H203.64M196.44 377.3H203.64" stroke="#000" stroke-width="1.05" fill="none"/>
<path d="M197.14 373.3L200.04 370.6L202.94 373.3L200.04 376Z" stroke="#000" stroke-width="1.0" fill="none"/>
<path d="M208.74 370.1V378.1M205.14 370.1H212.34M205.14 378.1H212.34" stroke="#000" stroke-width="1.05" fill="none"/>
<path d="M205.84 374.1L208.74 371.4L211.64 374.1L208.74 376.8Z" stroke="#000" stroke-width="1.0" fill="none"/>
<path d="M217.45 369.3V377.3M213.85 369.3H221.05M213.85 377.3H221.05" stroke="#000" stroke-width="1.05" fill="none"/>
<path d="M214.55 373.3L217.45 370.6L220.35 373.3L217.45 376Z" stroke="#000" stroke-width="1.0" fill="none"/>
<path d="M226.16 369.8V377.8M222.56 369.8H229.76M222.56 377.8H229.76" stroke="#000" stroke-width="1.05" fill="none"/>
<path d="M223.26 373.8L226.16 371.1L229.06 373.8L226.16 376.5Z" stroke="#000" stroke-width="1.0" fill="none"/>
<path d="M234.87 364.3V372.3M231.27 364.3H238.47M231.27 372.3H238.47" stroke="#000" stroke-width="1.05" fill="none"/>
<path d="M231.97 368.3L234.87 365.6L237.77 368.3L234.87 371Z" stroke="#000" stroke-width="1.0" fill="none"/>
<path d="M243.57 358.5V366.5M239.97 358.5H247.17M239.97 366.5H247.17" stroke="#000" stroke-width="1.05" fill="none"/>
<path d="M240.67 362.5L243.57 359.8L246.47 362.5L243.57 365.2Z" stroke="#000" stroke-width="1.0" fill="none"/>
<path d="M252.28 371.9V379.9M248.68 371.9H255.88M248.68 379.9H255.88" stroke="#000" stroke-width="1.05" fill="none"/>
<path d="M249.38 375.9L252.28 373.2L255.18 375.9L252.28 378.6Z" stroke="#000" stroke-width="1.0" fill="none"/>
<path d="M260.99 358V366M257.39 358H264.59M257.39 366H264.59" stroke="#000" stroke-width="1.05" fill="none"/>
<path d="M258.09 362L260.99 359.3L263.89 362L260.99 364.7Z" stroke="#000" stroke-width="1.0" fill="none"/>
<path d="M269.69 356.2V364.2M266.09 356.2H273.29M266.09 364.2H273.29" stroke="#000" stroke-width="1.05" fill="none"/>
<path d="M266.79 360.2L269.69 357.5L272.59 360.2L269.69 362.9Z" stroke="#000" stroke-width="1.0" fill="none"/>
<path d="M278.4 358.8V366.8M274.8 358.8H282M274.8 366.8H282" stroke="#000" stroke-width="1.05" fill="none"/>
<path d="M275.5 362.8L278.4 360.1L281.3 362.8L278.4 365.5Z" stroke="#000" stroke-width="1.0" fill="none"/>
<path d="M287.11 355.5V363.5M283.51 355.5H290.71M283.51 363.5H290.71" stroke="#000" stroke-width="1.05" fill="none"/>
<path d="M284.21 359.5L287.11 356.8L290.01 359.5L287.11 362.2Z" stroke="#000" stroke-width="1.0" fill="none"/>
<path d="M295.81 370.1V378.1M292.21 370.1H299.41M292.21 378.1H299.41" stroke="#000" stroke-width="1.05" fill="none"/>
<path d="M292.91 374.1L295.81 371.4L298.71 374.1L295.81 376.8Z" stroke="#000" stroke-width="1.0" fill="none"/>
<path d="M304.52 365.6V373.6M300.92 365.6H308.12M300.92 373.6H308.12" stroke="#000" stroke-width="1.05" fill="none"/>
<path d="M301.62 369.6L304.52 366.9L307.42 369.6L304.52 372.3Z" stroke="#000" stroke-width="1.0" fill="none"/>
<path d="M313.23 363.5V371.5M309.63 363.5H316.83M309.63 371.5H316.83" stroke="#000" stroke-width="1.05" fill="none"/>
<path d="M310.33 367.5L313.23 364.8L316.13 367.5L313.23 370.2Z" stroke="#000" stroke-width="1.0" fill="none"/>
<path d="M321.94 351.2V359.2M318.34 351.2H325.54M318.34 359.2H325.54" stroke="#000" stroke-width="1.05" fill="none"/>
<path d="M319.04 355.2L321.94 352.5L324.84 355.2L321.94 357.9Z" stroke="#000" stroke-width="1.0" fill="none"/>
<path d="M330.64 371.4V379.4M327.04 371.4H334.24M327.04 379.4H334.24" stroke="#000" stroke-width="1.05" fill="none"/>
<path d="M327.74 375.4L330.64 372.7L333.54 375.4L330.64 378.1Z" stroke="#000" stroke-width="1.0" fill="none"/>
<path d="M339.35 368.8V376.8M335.75 368.8H342.95M335.75 376.8H342.95" stroke="#000" stroke-width="1.05" fill="none"/>
<path d="M336.45 372.8L339.35 370.1L342.25 372.8L339.35 375.5Z" stroke="#000" stroke-width="1.0" fill="none"/>
<path d="M348.06 369.3V377.3M344.46 369.3H351.66M344.46 377.3H351.66" stroke="#000" stroke-width="1.05" fill="none"/>
<path d="M345.16 373.3L348.06 370.6L350.96 373.3L348.06 376Z" stroke="#000" stroke-width="1.0" fill="none"/>
<path d="M356.76 364.8V372.8M353.16 364.8H360.36M353.16 372.8H360.36" stroke="#000" stroke-width="1.05" fill="none"/>
<path d="M353.86 368.8L356.76 366.1L359.66 368.8L356.76 371.5Z" stroke="#000" stroke-width="1.0" fill="none"/>
<path d="M365.47 369.8V377.8M361.87 369.8H369.07M361.87 377.8H369.07" stroke="#000" stroke-width="1.05" fill="none"/>
<path d="M362.57 373.8L365.47 371.1L368.37 373.8L365.47 376.5Z" stroke="#000" stroke-width="1.0" fill="none"/>
<path d="M374.18 358.8V366.8M370.58 358.8H377.78M370.58 366.8H377.78" stroke="#000" stroke-width="1.05" fill="none"/>
<path d="M371.28 362.8L374.18 360.1L377.08 362.8L374.18 365.5Z" stroke="#000" stroke-width="1.0" fill="none"/>
<path d="M382.88 363V371M379.28 363H386.48M379.28 371H386.48" stroke="#000" stroke-width="1.05" fill="none"/>
<path d="M379.98 367L382.88 364.3L385.78 367L382.88 369.7Z" stroke="#000" stroke-width="1.0" fill="none"/>
<path d="M391.59 347.4V357.4M387.99 347.4H395.19M387.99 357.4H395.19" stroke="#000" stroke-width="1.05" fill="none"/>
<path d="M388.69 352.4L391.59 349.7L394.49 352.4L391.59 355.1Z" stroke="#000" stroke-width="1.0" fill="none"/>
<path d="M400.3 354.2V367.2M396.7 354.2H403.9M396.7 367.2H403.9" stroke="#000" stroke-width="1.05" fill="none"/>
<path d="M397.4 360.7L400.3 358L403.2 360.7L400.3 363.4Z" stroke="#000" stroke-width="1.0" fill="none"/>
<path d="M409.01 369V380.2M405.41 369H412.61M405.41 380.2H412.61" stroke="#000" stroke-width="1.05" fill="none"/>
<path d="M406.11 374.6L409.01 371.9L411.91 374.6L409.01 377.3Z" stroke="#000" stroke-width="1.0" fill="none"/>
<path d="M417.71 360.2V365.4M414.11 360.2H421.31M414.11 365.4H421.31" stroke="#000" stroke-width="1.05" fill="none"/>
<path d="M414.81 362.8L417.71 360.1L420.61 362.8L417.71 365.5Z" stroke="#000" stroke-width="1.0" fill="none"/>
<path d="M426.42 359.8V364.2M422.82 359.8H430.02M422.82 364.2H430.02" stroke="#000" stroke-width="1.05" fill="none"/>
<path d="M423.52 362L426.42 359.3L429.32 362L426.42 364.7Z" stroke="#000" stroke-width="1.0" fill="none"/>
<path d="M435.13 386.9V394.1M431.53 386.9H438.73M431.53 394.1H438.73" stroke="#000" stroke-width="1.05" fill="none"/>
<path d="M432.23 390.5L435.13 387.8L438.03 390.5L435.13 393.2Z" stroke="#000" stroke-width="1.0" fill="none"/>
<path d="M443.83 376.1V385.3M440.23 376.1H447.43M440.23 385.3H447.43" stroke="#000" stroke-width="1.05" fill="none"/>
<path d="M440.93 380.7L443.83 378L446.73 380.7L443.83 383.4Z" stroke="#000" stroke-width="1.0" fill="none"/>
<path d="M452.54 389.8V403M448.94 389.8H456.14M448.94 403H456.14" stroke="#000" stroke-width="1.05" fill="none"/>
<path d="M449.64 396.4L452.54 393.7L455.44 396.4L452.54 399.1Z" stroke="#000" stroke-width="1.0" fill="none"/>
<path d="M461.25 355.6V369.6M457.65 355.6H464.85M457.65 369.6H464.85" stroke="#000" stroke-width="1.05" fill="none"/>
<path d="M458.35 362.6L461.25 359.9L464.15 362.6L461.25 365.3Z" stroke="#000" stroke-width="1.0" fill="none"/>
<path d="M469.95 393V408M466.35 393H473.55M466.35 408H473.55" stroke="#000" stroke-width="1.05" fill="none"/>
<path d="M467.05 400.5L469.95 397.8L472.85 400.5L469.95 403.2Z" stroke="#000" stroke-width="1.0" fill="none"/>
</g>
<rect x="91.2" y="18.4" width="435.35" height="386.9" fill="none" stroke="#000" stroke-width="2.45"/>
<path d="M91.2 260.1H526.55M91.2 332.45H526.55" stroke="#000" stroke-width="2.45" fill="none"/>
<line x1="509.15" y1="296.4" x2="525.55" y2="296.4" stroke="#8b0000" stroke-width="1.3"/>
<line x1="509.15" y1="368.85" x2="525.55" y2="368.85" stroke="#8b0000" stroke-width="1.3"/>
<text x="91.2" y="431.7" font-size="22.6" text-anchor="middle" textLength="25.43" lengthAdjust="spacingAndGlyphs">0.0</text>
<text x="134.74" y="431.7" font-size="22.6" text-anchor="middle" textLength="25.43" lengthAdjust="spacingAndGlyphs">0.1</text>
<text x="178.27" y="431.7" font-size="22.6" text-anchor="middle" textLength="25.43" lengthAdjust="spacingAndGlyphs">0.2</text>
<text x="221.81" y="431.7" font-size="22.6" text-anchor="middle" textLength="25.43" lengthAdjust="spacingAndGlyphs">0.3</text>
<text x="265.34" y="431.7" font-size="22.6" text-anchor="middle" textLength="25.43" lengthAdjust="spacingAndGlyphs">0.4</text>
<text x="308.88" y="431.7" font-size="22.6" text-anchor="middle" textLength="25.43" lengthAdjust="spacingAndGlyphs">0.5</text>
<text x="352.41" y="431.7" font-size="22.6" text-anchor="middle" textLength="25.43" lengthAdjust="spacingAndGlyphs">0.6</text>
<text x="395.94" y="431.7" font-size="22.6" text-anchor="middle" textLength="25.43" lengthAdjust="spacingAndGlyphs">0.7</text>
<text x="439.48" y="431.7" font-size="22.6" text-anchor="middle" textLength="25.43" lengthAdjust="spacingAndGlyphs">0.8</text>
<text x="483.01" y="431.7" font-size="22.6" text-anchor="middle" textLength="25.43" lengthAdjust="spacingAndGlyphs">0.9</text>
<text x="526.55" y="431.7" font-size="22.6" text-anchor="middle" textLength="25.43" lengthAdjust="spacingAndGlyphs">1.0</text>
<text x="79.6" y="235.37" font-size="22.6" text-anchor="end" textLength="25.43" lengthAdjust="spacingAndGlyphs">0.1</text>
<text x="79.6" y="203.14" font-size="22.6" text-anchor="end" textLength="25.43" lengthAdjust="spacingAndGlyphs">0.2</text>
<text x="79.6" y="170.91" font-size="22.6" text-anchor="end" textLength="25.43" lengthAdjust="spacingAndGlyphs">0.3</text>
<text x="79.6" y="138.68" font-size="22.6" text-anchor="end" textLength="25.43" lengthAdjust="spacingAndGlyphs">0.4</text>
<text x="79.6" y="106.45" font-size="22.6" text-anchor="end" textLength="25.43" lengthAdjust="spacingAndGlyphs">0.5</text>
<text x="79.6" y="74.22" font-size="22.6" text-anchor="end" textLength="25.43" lengthAdjust="spacingAndGlyphs">0.6</text>
<text x="79.6" y="41.99" font-size="22.6" text-anchor="end" textLength="25.43" lengthAdjust="spacingAndGlyphs">0.7</text>
<text x="79.6" y="285.6" font-size="22.6" text-anchor="end" textLength="35.6" lengthAdjust="spacingAndGlyphs">1.05</text>
<text x="79.6" y="303.7" font-size="22.6" text-anchor="end" textLength="25.43" lengthAdjust="spacingAndGlyphs">1.0</text>
<text x="79.6" y="321.8" font-size="22.6" text-anchor="end" textLength="35.6" lengthAdjust="spacingAndGlyphs">0.95</text>
<text x="79.6" y="358.05" font-size="22.6" text-anchor="end" textLength="35.6" lengthAdjust="spacingAndGlyphs">1.05</text>
<text x="79.6" y="376.15" font-size="22.6" text-anchor="end" textLength="25.43" lengthAdjust="spacingAndGlyphs">1.0</text>
<text x="79.6" y="394.25" font-size="22.6" text-anchor="end" textLength="35.6" lengthAdjust="spacingAndGlyphs">0.95</text>
<text transform="translate(33.4,296.5) rotate(-90)" font-size="17.5" text-anchor="middle" textLength="25.5" lengthAdjust="spacing">SW</text>
<text transform="translate(33.4,369.5) rotate(-90)" font-size="17.5" text-anchor="middle" textLength="51.5" lengthAdjust="spacing">GGGH</text>
<text x="287" y="458" font-size="27.5" class="it">C</text>
<text x="306.5" y="461" font-size="20">par</text>
<g transform="translate(0,178.5) rotate(-90)">
<text x="0.2" y="14.5" font-size="17.4" class="it" textLength="14.6" lengthAdjust="spacingAndGlyphs">C</text><text x="17.0" y="17.3" font-size="12.8" class="sm" textLength="15.8" lengthAdjust="spacingAndGlyphs">par</text>
<rect x="0.2" y="21.2" width="33.3" height="1.15" fill="#000"/>
<text x="11.8" y="37.8" font-size="18.6" class="it" textLength="11.6" lengthAdjust="spacingAndGlyphs">σ</text>
<text x="41.5" y="14.5" font-size="17.4">d</text><text x="50.7" y="14.5" font-size="18" class="it" textLength="11" lengthAdjust="spacingAndGlyphs">σ</text>
<rect x="36.3" y="21.2" width="43.1" height="1.15" fill="#000"/>
<text x="36.5" y="36.2" font-size="17.4">d</text><text x="45.3" y="36.2" font-size="17.4" class="it" textLength="13" lengthAdjust="spacingAndGlyphs">C</text><text x="58.4" y="39.2" font-size="12.8" class="sm" textLength="15.8" lengthAdjust="spacingAndGlyphs">par</text>
</g>
<rect x="164.6" y="40.3" width="17.5" height="16.1" fill="#ababab" stroke="#3c3c3c" stroke-width="1"/>
<line x1="166" y1="47.6" x2="178.1" y2="47.6" stroke="#2a2a2a" stroke-width="1"/>
<text x="188.6" y="54.3" font-size="19.3" textLength="97.5" lengthAdjust="spacingAndGlyphs">ALEPH data</text>
<path d="M169 68.3L171.7 65.6L174.4 68.3L171.7 71Z" fill="#fff" stroke="#000" stroke-width="0.9"/>
<text x="182.6" y="75" font-size="19.3" textLength="52.4" lengthAdjust="spacingAndGlyphs">GGGH</text>
<line x1="303.3" y1="48.4" x2="335" y2="48.4" stroke="#008000" stroke-width="1.6" stroke-dasharray="1.6 2.62"/>
<line x1="303.2" y1="69.0" x2="334.9" y2="69.0" stroke="#0000ff" stroke-width="1.85" stroke-dasharray="11.2 2.8 1.8 2.8" stroke-dashoffset="14.1"/>
<line x1="303.2" y1="89.6" x2="334.9" y2="89.6" stroke="#ff0000" stroke-width="2"/>
<text x="343" y="54.9" font-size="19.3" textLength="23" lengthAdjust="spacingAndGlyphs">LO</text>
<text x="343" y="75.5" font-size="19.3" textLength="35.8" lengthAdjust="spacingAndGlyphs">NLO</text>
<text x="343" y="96.2" font-size="19.3" textLength="48.5" lengthAdjust="spacingAndGlyphs">NNLO</text>
<rect x="401.1" y="41.8" width="15.6" height="13.8" fill="#98fb98" stroke="#222" stroke-width="1"/>
<rect x="401.1" y="62.5" width="15.6" height="13.8" fill="#afeeee" stroke="#222" stroke-width="1"/>
<rect x="401.1" y="83.1" width="15.6" height="13.8" fill="#ffc0cb" stroke="#222" stroke-width="1"/>
<text x="423.2" y="55" font-size="18.8" class="it">ξ</text>
<text x="432.2" y="57.8" font-size="12.5" class="it sm">R</text>
<path d="M457.3 45.4H452.2A4.4 4.4 0 0 0 452.2 54.2H457.3M447.9 49.8H457.3" fill="none" stroke="#000" stroke-width="0.95"/>
<text x="463.2" y="55" font-size="19.3" textLength="30.8" lengthAdjust="spacingAndGlyphs">[0.5,</text>
<text x="496.3" y="55" font-size="19.3" textLength="14.4" lengthAdjust="spacingAndGlyphs">2]</text>
<text x="423.2" y="75.7" font-size="18.8" class="it">ξ</text>
<text x="432.2" y="78.5" font-size="12.5" class="it sm">R</text>
<path d="M457.3 66.1H452.2A4.4 4.4 0 0 0 452.2 74.9H457.3M447.9 70.5H457.3" fill="none" stroke="#000" stroke-width="0.95"/>
<text x="463.2" y="75.7" font-size="19.3" textLength="30.8" lengthAdjust="spacingAndGlyphs">[0.5,</text>
<text x="496.3" y="75.7" font-size="19.3" textLength="14.4" lengthAdjust="spacingAndGlyphs">2]</text>
<text x="423.2" y="96.3" font-size="18.8" class="it">ξ</text>
<text x="432.2" y="99.1" font-size="12.5" class="it sm">R</text>
<path d="M457.3 86.7H452.2A4.4 4.4 0 0 0 452.2 95.5H457.3M447.9 91.1H457.3" fill="none" stroke="#000" stroke-width="0.95"/>
<text x="463.2" y="96.3" font-size="19.3" textLength="30.8" lengthAdjust="spacingAndGlyphs">[0.5,</text>
<text x="496.3" y="96.3" font-size="19.3" textLength="14.4" lengthAdjust="spacingAndGlyphs">2]</text>
<path d="M378.8 134.6L381 133.2L385.2 141.6L391.6 125.1H413.4" fill="none" stroke="#000" stroke-width="0.95"/>
<text x="392.8" y="140.3" font-size="18.5" class="it">Q</text><text x="406.2" y="133.5" font-size="12.5" class="sm">2</text>
<text x="419.3" y="140.3" font-size="18.5" textLength="12" lengthAdjust="spacingAndGlyphs">=</text>
<text x="436.5" y="140.3" font-size="18.5" textLength="30.4" lengthAdjust="spacing">91.2</text>
<text x="469.8" y="140.3" font-size="18.5" textLength="34.5" lengthAdjust="spacing">GeV</text>
<text x="378.2" y="159.6" font-size="18.5" class="it">α</text><text x="389.6" y="162.6" font-size="12.5" class="it sm">s</text>
<text x="396.8" y="159.6" font-size="18.5">(</text><text x="402.4" y="159.6" font-size="18.5" class="it">Q</text><text x="415.6" y="152.8" font-size="12.5" class="sm">2</text><text x="422.6" y="159.6" font-size="18.5">)</text>
<text x="433.6" y="159.6" font-size="18.5" textLength="12" lengthAdjust="spacingAndGlyphs">=</text>
<text x="451.5" y="159.6" font-size="18.5" textLength="39" lengthAdjust="spacing">0.118</text>
<path d="M474.7 283H479.7M477.2 280.5V285.5" stroke="#000" stroke-width="1" fill="none"/>
<text x="486.3" y="288.2" font-size="15.6" class="md" textLength="21.8" lengthAdjust="spacing">SW</text>
<path d="M453 355.2L455.7 352.5L458.4 355.2L455.7 357.9Z" fill="#fff" stroke="#000" stroke-width="0.9"/>
<text x="464.8" y="360.7" font-size="15.6" class="md" textLength="43.4" lengthAdjust="spacing">GGGH</text>
</g></svg></body></html>
